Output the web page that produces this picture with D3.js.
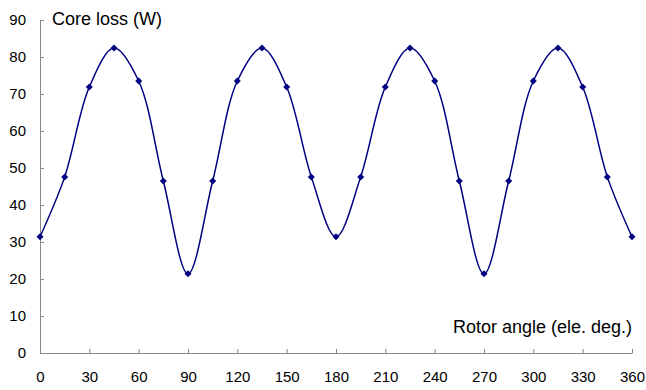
<!DOCTYPE html>
<html>
<head>
<meta charset="utf-8">
<script src="https://cdn.jsdelivr.net/npm/d3@7"></script>
<style>
  body { margin: 0; background: #fff; }
  text { font-family: "Liberation Sans", Arial, sans-serif; fill: #000; }
</style>
</head>
<body>
<svg id="chart"></svg>
<script>
// rotor angle (electrical degrees)
const angles = [0, 15, 30, 45, 60, 75, 90, 105, 120, 135, 150, 165, 180,
    195, 210, 225, 240, 255, 270, 285, 300, 315, 330, 345, 360];
// core loss (W)
const coreLoss = [31.4, 47.6, 71.9, 82.4, 73.5, 46.5, 21.4, 46.5, 73.5, 82.4, 71.9, 47.6, 31.4,
    47.6, 71.9, 82.4, 73.5, 46.5, 21.4, 46.5, 73.5, 82.4, 71.9, 47.6, 31.4];
const xTicks = [0, 30, 60, 90, 120, 150, 180, 210, 240, 270, 300, 330, 360];
const yTicks = [0, 10, 20, 30, 40, 50, 60, 70, 80, 90];

const data = angles.map((a, i) => ({ angle: a, loss: coreLoss[i] }));

const W = 646, H = 390;
const margin = {top: 20, right: 14, bottom: 37, left: 40},
    width = W - margin.left - margin.right,
    height = H - margin.top - margin.bottom;

const svg = d3.select("#chart")
    .attr("width", W)
    .attr("height", H)
    .append("g")
    .attr("transform", `translate(${margin.left},${margin.top})`);

const x = d3.scaleLinear().domain([0, 360]).range([0, width]);
const y = d3.scaleLinear().domain([0, 90]).range([height, 0]);

const axisColor = "#888";

// X axis, ticks point into the plot
const gx = svg.append("g")
    .attr("transform", `translate(0,${height})`)
    .call(d3.axisBottom(x).tickValues(xTicks).tickSizeInner(-4).tickSizeOuter(0).tickPadding(18));
gx.select(".domain").attr("stroke", axisColor);
gx.selectAll(".tick line").attr("stroke", axisColor);
gx.selectAll(".tick text").style("font-size", "15px");

// Y axis
const gy = svg.append("g")
    .call(d3.axisLeft(y).tickValues(yTicks).tickSizeInner(-4).tickSizeOuter(0).tickPadding(14));
gy.select(".domain").attr("stroke", axisColor);
gy.selectAll(".tick line").attr("stroke", axisColor);
gy.selectAll(".tick text").style("font-size", "15px");

// smooth line
const line = d3.line()
    .x(d => x(d.angle))
    .y(d => y(d.loss))
    .curve(d3.curveCatmullRom.alpha(0.5));

svg.append("path")
    .datum(data)
    .attr("fill", "none")
    .attr("stroke", "#000080")
    .attr("stroke-width", 1.5)
    .attr("d", line);

// diamond markers
svg.selectAll(".pt")
    .data(data)
    .enter().append("path")
    .attr("class", "pt")
    .attr("transform", d => `translate(${x(d.angle)},${y(d.loss)})`)
    .attr("d", "M0,-3.5L3.5,0L0,3.5L-3.5,0Z")
    .attr("fill", "#000080");

// axis titles
svg.append("text")
    .attr("x", 12)
    .attr("y", 5)
    .style("font-size", "18px")
    .text("Core loss (W)");

svg.append("text")
    .attr("text-anchor", "end")
    .attr("x", width)
    .attr("y", height - 20)
    .style("font-size", "18px")
    .text("Rotor angle (ele. deg.)");
</script>
</body>
</html>
